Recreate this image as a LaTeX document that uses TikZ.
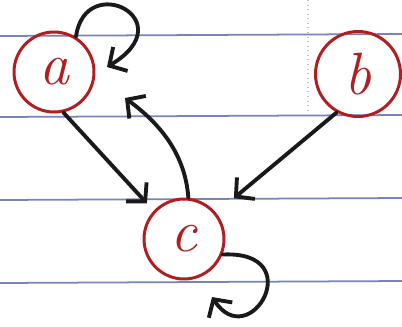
\documentclass[tikz,border=0pt]{standalone}
\usetikzlibrary{arrows.meta}
\definecolor{ink}{HTML}{1A1A1A}
\definecolor{redink}{HTML}{B01E22}
\definecolor{paperline}{HTML}{5A64A8}
\begin{document}
\begin{tikzpicture}[x=0.02cm,y=-0.02cm,
  vertex/.style={circle,draw=redink,line width=1.7pt,text=redink,inner sep=0pt,
    font=\fontsize{34}{34}\selectfont\itshape},
  edge/.style={draw=ink,line width=2.2pt,line cap=round,
    -{Straight Barb[length=0.26cm,width=0.56cm]}},
  ruled/.style={draw=paperline,line width=1pt,opacity=0.8}]
\useasboundingbox[fill=white] (0,0) rectangle (402,326);
% lined paper
\foreach \yy in {36,117,200,283} \draw[ruled] (0,\yy) -- (402,\yy-2);
\draw[paperline!40,line width=0.6pt,dotted] (308,0) -- (308,112);
% nodes
\node[vertex,minimum size=1.6cm] (a) at (54,72) {a};
\node[vertex,minimum size=1.7cm] (b) at (358,74) {b};
\node[vertex,minimum size=1.6cm] (c) at (184,239) {c};
\coordinate (catip) at (125,98);
% edges
\draw[edge] (a.58) .. controls (85,-30) and (185,20) .. (107,67);
\draw[edge,shorten >=0.2cm] (a.-77) -- (c.137);
\draw[edge,shorten >=0.46cm] (b.-119) -- (c.39);
\draw[edge] (c.84) .. controls (185,150) and (155,120) .. (catip);
\draw[edge] (c.-22) .. controls (310,250) and (250,355) .. (212,297);
\end{tikzpicture}
\end{document}
